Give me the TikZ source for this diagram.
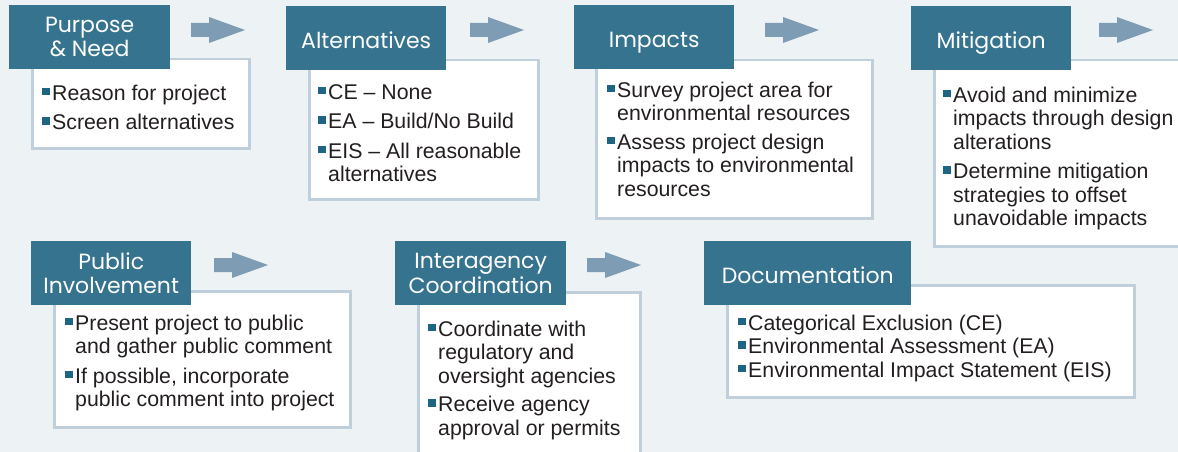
\documentclass[tikz,border=0pt]{standalone}
\usepackage{fontspec}
\setmainfont{Liberation Sans}
\newfontfamily\headfont{Poppins}
\definecolor{bgcol}{HTML}{EDF2F5}
\definecolor{headcol}{HTML}{36738F}
\definecolor{bordcol}{HTML}{BFCFDB}
\definecolor{arrcol}{HTML}{7E9CB4}
\definecolor{bulcol}{HTML}{1E6584}
\definecolor{txtcol}{HTML}{231F20}
\newcommand{\bsq}{\makebox[10pt][l]{\textcolor{bulcol}{\rule[5pt]{7.5pt}{7.5pt}}}}
\newcommand{\cont}{\hspace*{10pt}}
\newcommand{\fst}{\rule{0pt}{17pt}}
\begin{document}
\begin{tikzpicture}[x=1pt,y=-1pt,
  wbox/.style={draw=bordcol, line width=2.5pt, fill=white, anchor=north west, inner sep=0pt},
  hbox/.style={fill=headcol, anchor=north west, inner sep=0pt},
  htext/.style={text=white, font=\headfont\fontsize{22}{24.5}\selectfont, align=center, inner sep=0pt},
  hone/.style={htext, text height=15.5pt, text depth=0pt, yshift=-2.5pt},
  btext/.style={text=txtcol, font=\fontsize{21.3}{23.5}\selectfont, align=left, inner sep=0pt, anchor=north west},
  blockarrow/.pic={\fill[arrcol] (0,-7) -- (18,-7) -- (18,-13) -- (54,0) -- (18,13) -- (18,7) -- (0,7) -- cycle;}
]
\fill[bgcol] (0,0) rectangle (1178,452);
\useasboundingbox (0,0) rectangle (1178,452);
\clip (0,0) rectangle (1178,452);

% white boxes
\node[wbox, minimum width=217pt, minimum height=89pt] (w1) at (31,58) {};
\node[wbox, minimum width=229pt, minimum height=139pt] (w2) at (308,59) {};
\node[wbox, minimum width=276pt, minimum height=158pt] (w3) at (595,59) {};
\node[wbox, minimum width=268pt, minimum height=186pt] (w4) at (933,59) {};
\node[wbox, minimum width=296pt, minimum height=136pt] (w5) at (53,290) {};
\node[wbox, minimum width=222pt, minimum height=180pt] (w6) at (417,291) {};
\node[wbox, minimum width=407pt, minimum height=112pt] (w7) at (726,284) {};

% header boxes
\node[hbox, minimum width=161pt, minimum height=64pt] (h1) at (9,5) {};
\node[hbox, minimum width=160pt, minimum height=64pt] (h2) at (286,6) {};
\node[hbox, minimum width=160pt, minimum height=64pt] (h3) at (574,5) {};
\node[hbox, minimum width=160pt, minimum height=64pt] (h4) at (911,6) {};
\node[hbox, minimum width=160pt, minimum height=64pt] (h5) at (31,241) {};
\node[hbox, minimum width=171pt, minimum height=64pt] (h6) at (395,241) {};
\node[hbox, minimum width=207pt, minimum height=64pt] (h7) at (704,241) {};

\node[htext] (h1t) at (h1.center) {Purpose\\\& Need};
\node[hone] (h2t) at (h2.center) {Alternatives};
\node[hone] (h3t) at (h3.center) {Impacts};
\node[hone] (h4t) at (h4.center) {Mitigation};
\node[htext] (h5t) at (h5.center) {Public\\Involvement};
\node[htext] (h6t) at (h6.center) {Interagency\\Coordination};
\node[hone] (h7t) at (h7.center) {Documentation};

% arrows
\pic at (191,30) {blockarrow};
\pic at (470,30) {blockarrow};
\pic at (765,30) {blockarrow};
\pic at (1099,30) {blockarrow};
\pic at (214,265) {blockarrow};
\pic at (587,265) {blockarrow};

% body texts
\node[btext] (t1) at (42,83) {\fst\bsq Reason for project\\[6pt]\bsq Screen alternatives};
\node[btext] (t2) at (318,82) {\fst\bsq CE -- None\\[6pt]\bsq EA -- Build/No Build\\[6pt]\bsq EIS -- All reasonable\\\cont alternatives};
\node[btext] (t3) at (607,80) {\fst\bsq Survey project area for\\\cont environmental resources\\[5pt]\bsq Assess project design\\\cont impacts to environmental\\\cont resources};
\node[btext] (t4) at (943,85) {\fst\bsq Avoid and minimize\\\cont impacts through design\\\cont alterations\\[6pt]\bsq Determine mitigation\\\cont strategies to offset\\\cont unavoidable impacts};
\node[btext] (t5) at (65,313) {\fst\bsq Present project to public\\\cont and gather public comment\\[6pt]\bsq If possible, incorporate\\\cont public comment into project};
\node[btext] (t6) at (428,319) {\fst\bsq Coordinate with\\\cont regulatory and\\\cont oversight agencies\\[5pt]\bsq Receive agency\\\cont approval or permits};
\node[btext] (t7) at (738,313) {\fst\bsq Categorical Exclusion (CE)\\\bsq Environmental Assessment (EA)\\\bsq Environmental Impact Statement (EIS)};
\end{tikzpicture}
\end{document}
